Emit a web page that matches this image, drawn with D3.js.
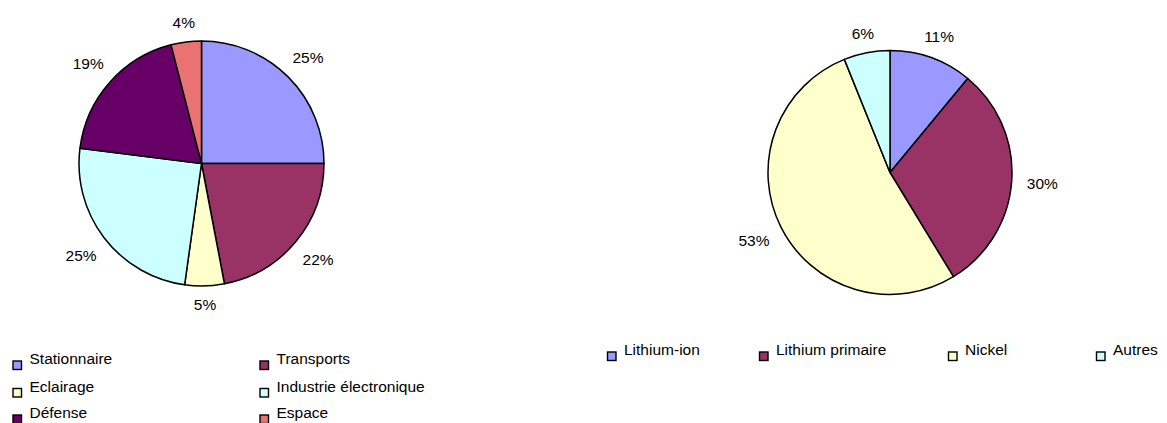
<!DOCTYPE html>
<html>
<head>
<meta charset="utf-8">
<script src="https://cdn.jsdelivr.net/npm/d3@7"></script>
<style>
  body { margin: 0; background: #fff; }
  svg { display: block; font-family: "Liberation Sans", Arial, sans-serif; }
</style>
</head>
<body>
<div id="charts"></div>
<script>
// Data - usages
var usageCategories = ["Stationnaire", "Transports", "Eclairage", "Industrie électronique", "Défense", "Espace"];
var usageValues = [25, 22, 5.2, 24.8, 19, 4];
var usageColors = ["#9999FF", "#993366", "#FFFFCC", "#CCFFFF", "#660066", "#E97272"];

// Data - technologies
var techCategories = ["Lithium-ion", "Lithium primaire", "Nickel", "Autres"];
var techValues = [11, 30.3, 52.6, 6.1];
var techColors = ["#9999FF", "#993366", "#FFFFCC", "#CCFFFF"];

var width = 1167, height = 423;

var svg = d3.select("#charts")
    .append("svg")
    .attr("width", width)
    .attr("height", height);

// Draw one pie with outside percentage labels
function drawPie(values, colors, cx, cy, radius) {
    var total = d3.sum(values);
    var pie = d3.pie().sort(null).value(function (d) { return d; });
    var arc = d3.arc().innerRadius(0).outerRadius(radius);

    var g = svg.append("g")
        .attr("transform", "translate(" + cx + "," + cy + ")");

    var arcs = pie(values);

    g.selectAll("path")
        .data(arcs)
        .enter()
        .append("path")
        .attr("d", arc)
        .attr("fill", function (d, i) { return colors[i]; })
        .attr("stroke", "#000")
        .attr("stroke-width", 1.5)
        .attr("stroke-linejoin", "round");

    var labels = g.selectAll("text")
        .data(arcs)
        .enter()
        .append("text")
        .attr("font-size", "15.5px")
        .attr("fill", "#000")
        .attr("text-anchor", "middle")
        .text(function (d) { return Math.round(d.value / total * 100) + "%"; });

    // push label box outside the rim
    labels.each(function (d) {
        var a = (d.startAngle + d.endAngle) / 2;
        var w = this.getComputedTextLength();
        var s = Math.sin(a), c = -Math.cos(a);
        var off = radius + 15 + Math.abs(s) * w / 2 + Math.abs(c) * 3;
        d3.select(this)
            .attr("x", s * off)
            .attr("y", c * off + 5.5);
    });
}

// Legend rows: item = {name, color, x, y(baseline)}
function drawLegend(items) {
    var lg = svg.append("g").attr("font-size", "15.5px");
    var it = lg.selectAll("g")
        .data(items)
        .enter()
        .append("g")
        .attr("transform", function (d) { return "translate(" + d.x + "," + d.y + ")"; });

    it.append("rect")
        .attr("x", 0.5)
        .attr("y", -3)
        .attr("width", 8.5)
        .attr("height", 8.5)
        .attr("fill", function (d) { return d.color; })
        .attr("stroke", "#000")
        .attr("stroke-width", 1.4);

    it.append("text")
        .attr("x", 17)
        .attr("y", 0)
        .attr("fill", "#000")
        .text(function (d) { return d.name; });
}

drawPie(usageValues, usageColors, 201.5, 163.5, 122.5);
drawPie(techValues, techColors, 890, 172.5, 122);

// Left legend: 2 columns x 3 rows
var leftCols = [12.5, 259.5], leftRows = [364, 391.5, 418];
drawLegend(usageCategories.map(function (name, i) {
    return {name: name, color: usageColors[i], x: leftCols[i % 2], y: leftRows[Math.floor(i / 2)]};
}));

// Right legend: single row
var rightCols = [607, 759, 948, 1096];
drawLegend(techCategories.map(function (name, i) {
    return {name: name, color: techColors[i], x: rightCols[i], y: 355};
}));
</script>
</body>
</html>
